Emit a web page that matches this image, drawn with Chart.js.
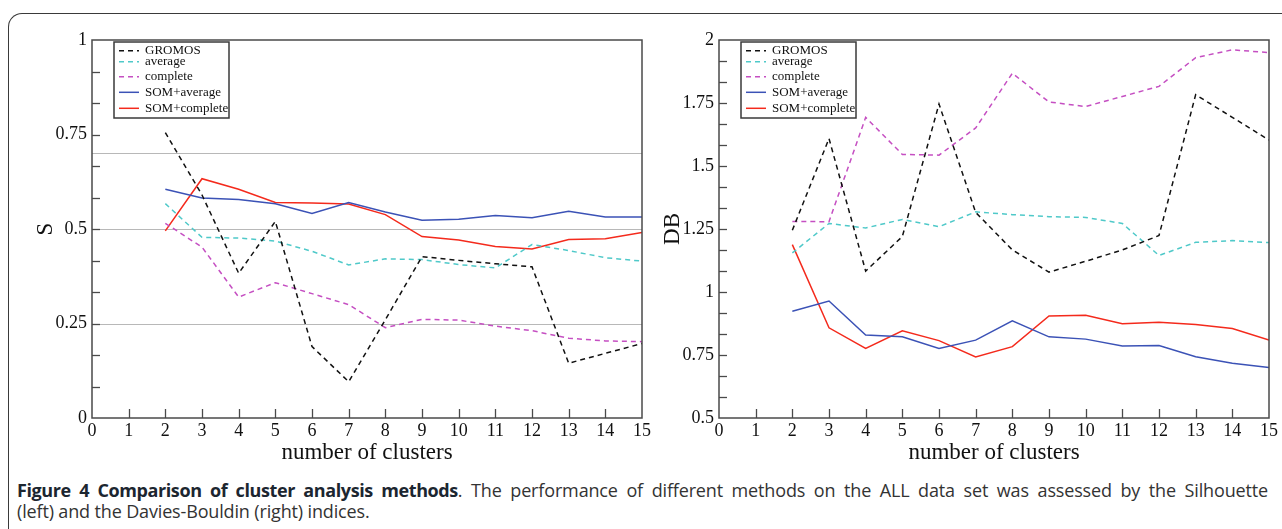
<!DOCTYPE html>
<html><head><meta charset="utf-8">
<script src="https://cdn.jsdelivr.net/npm/chart.js@4.4.1/dist/chart.umd.min.js"></script>
<style>
html,body{margin:0;padding:0;background:#fff;width:1282px;height:529px;overflow:hidden;position:relative;}
#frame{position:absolute;left:8px;top:13px;width:1400px;height:700px;border-left:1.5px solid #3a3a3a;border-top:1.5px solid #3a3a3a;border-top-left-radius:14px;box-sizing:border-box;}
#c1{position:absolute;left:13px;top:20px;}
#c2{position:absolute;left:640px;top:20px;}
.cap{position:absolute;left:17px;width:1251px;font-family:"Open Sans";font-size:18px;color:#333;line-height:21px;letter-spacing:-0.15px;}
#cap1{top:480px;text-align:justify;text-align-last:justify;}
#cap2{top:501px;}
.cap b{color:#1c2630;letter-spacing:-0.4px;}
</style></head>
<body>
<div id="frame"></div>
<canvas id="c1" width="649" height="448"></canvas>
<canvas id="c2" width="649" height="448"></canvas>
<div class="cap" id="cap1"><b>Figure 4 Comparison of cluster analysis methods</b>. The performance of different methods on the ALL data set was assessed by the Silhouette</div>
<div class="cap" id="cap2">(left) and the Davies-Bouldin (right) indices.</div>
<script>
// ---- data ----
const clusters = [2,3,4,5,6,7,8,9,10,11,12,13,14,15];
const seriesNames = ['GROMOS','average','complete','SOM+average','SOM+complete'];

const sGromos      = [0.755,0.590,0.383,0.520,0.189,0.096,0.260,0.427,0.417,0.408,0.400,0.145,0.171,0.197];
const sAverage     = [0.567,0.478,0.476,0.468,0.441,0.405,0.421,0.419,0.406,0.397,0.459,0.443,0.424,0.415];
const sComplete    = [0.515,0.452,0.320,0.358,0.329,0.300,0.239,0.261,0.259,0.243,0.231,0.211,0.204,0.202];
const sSomAverage  = [0.605,0.582,0.578,0.567,0.541,0.570,0.545,0.523,0.526,0.536,0.530,0.547,0.532,0.532];
const sSomComplete = [0.495,0.633,0.605,0.570,0.569,0.566,0.538,0.480,0.471,0.454,0.447,0.472,0.474,0.491];
const sRefLines    = [0.7, 0.5, 0.25];

const dbGromos      = [1.245,1.609,1.083,1.220,1.746,1.316,1.167,1.079,1.122,1.167,1.224,1.783,1.693,1.603];
const dbAverage     = [1.155,1.272,1.254,1.288,1.259,1.318,1.307,1.299,1.296,1.272,1.145,1.197,1.204,1.196];
const dbComplete    = [1.280,1.279,1.693,1.546,1.543,1.651,1.868,1.754,1.736,1.776,1.816,1.930,1.961,1.950];
const dbSomAverage  = [0.924,0.964,0.829,0.822,0.776,0.809,0.886,0.822,0.813,0.786,0.788,0.743,0.717,0.700];
const dbSomComplete = [1.188,0.858,0.776,0.846,0.807,0.742,0.783,0.905,0.908,0.874,0.880,0.871,0.855,0.809];

// ---- styles ----
const colors = ['#111111','#4fc9c9','#c54fc2','#3b52b6','#f42a1c'];
const dashes = [[5,4],[5,4],[5,4],[],[]];
const legendRowOffsets = [10.7, 21.7, 36.7, 52.3, 68.3];
const SERIF = '"Liberation Serif","Times New Roman",serif';

function toPts(vals){ return vals.map((v,i)=>({x:clusters[i], y:v})); }
function makeDatasets(list){
  return list.map((vals,i)=>({
    label: seriesNames[i], data: toPts(vals), borderColor: colors[i], backgroundColor: colors[i],
    borderWidth: 1.5, borderDash: dashes[i], pointRadius: 0, tension: 0, fill: false
  }));
}

const decor = {
  id: 'decor',
  beforeDatasetsDraw(chart, args, o){
    const {ctx, chartArea:a, scales:{y}} = chart;
    ctx.save();
    ctx.strokeStyle = '#b8b8b8'; ctx.lineWidth = 1;
    (o.refLines||[]).forEach(v=>{
      const py = Math.round(y.getPixelForValue(v)) + 0.5;
      ctx.beginPath(); ctx.moveTo(a.left, py); ctx.lineTo(a.right, py); ctx.stroke();
    });
    ctx.restore();
  },
  afterDraw(chart, args, o){
    const {ctx, chartArea:a, scales:{x, y}} = chart;
    ctx.save();
    ctx.strokeStyle = '#4a4a4a'; ctx.lineWidth = 1.3;
    for (let v = x.min + 1; v < x.max; v++){
      const px = Math.round(x.getPixelForValue(v)) + 0.5;
      ctx.beginPath(); ctx.moveTo(px, a.bottom); ctx.lineTo(px, a.bottom - 9); ctx.stroke();
    }
    const step = o.majorStep / 3;
    const n = Math.round((y.max - y.min) / step);
    for (let k = 1; k < n; k++){
      const py = Math.round(y.getPixelForValue(y.min + k*step)) + 0.5;
      ctx.beginPath(); ctx.moveTo(a.left, py); ctx.lineTo(a.left + 8, py); ctx.stroke();
    }
    ctx.lineWidth = 1.5; ctx.strokeStyle = '#4a4a4a';
    ctx.strokeRect(a.left, a.top, a.right - a.left, a.bottom - a.top);
    const lx = a.left + 22, ly = a.top + 2, lw = 115, lh = 76;
    ctx.fillStyle = '#fff'; ctx.fillRect(lx, ly, lw, lh);
    ctx.lineWidth = 1.5; ctx.strokeStyle = '#3a3a3a'; ctx.strokeRect(lx, ly, lw, lh);
    chart.data.datasets.forEach((ds, i)=>{
      const ry = a.top + legendRowOffsets[i];
      ctx.strokeStyle = ds.borderColor; ctx.lineWidth = 1.5; ctx.setLineDash(ds.borderDash || []);
      ctx.beginPath(); ctx.moveTo(a.left + 27, ry); ctx.lineTo(a.left + 47, ry); ctx.stroke();
      ctx.setLineDash([]);
      ctx.fillStyle = '#111'; ctx.font = '13px ' + SERIF; ctx.textBaseline = 'middle'; ctx.textAlign = 'left';
      ctx.fillText(ds.label, a.left + 53, ry);
    });
    ctx.restore();
  }
};

function makeChart(id, datasets, ymin, ymax, title, refLines){
  return new Chart(document.getElementById(id), {
    type: 'line',
    data: { datasets },
    plugins: [decor],
    options: {
      responsive: false, animation: false, devicePixelRatio: 1,
      layout: { padding: { top: 20, right: 20, left: 0, bottom: 0 } },
      plugins: { legend: { display: false }, tooltip: { enabled: false },
                 decor: { refLines: refLines, majorStep: 0.25 } },
      scales: {
        x: { type: 'linear', min: 0, max: 15,
             ticks: { stepSize: 1, autoSkip: false, padding: 2, color: '#111', font: { family: SERIF, size: 18 } },
             grid: { display: false, drawTicks: false }, border: { display: false },
             title: { display: true, text: 'number of clusters', color: '#111', font: { family: SERIF, size: 23 }, padding: { top: 0, bottom: 1 } },
             afterFit(s){ s.height = 50; } },
        y: { type: 'linear', min: ymin, max: ymax,
             ticks: { stepSize: 0.25, padding: 5, color: '#111', font: { family: SERIF, size: 18 },
                      callback: v => String(+v.toFixed(4)) },
             grid: { display: false, drawTicks: false }, border: { display: false },
             title: { display: true, text: title, color: '#111', font: { family: SERIF, size: 23 }, padding: { top: 19, bottom: 0 } },
             afterFit(s){ s.width = 79; } }
      }
    }
  });
}

makeChart('c1', makeDatasets([sGromos, sAverage, sComplete, sSomAverage, sSomComplete]), 0, 1, 'S', sRefLines);
makeChart('c2', makeDatasets([dbGromos, dbAverage, dbComplete, dbSomAverage, dbSomComplete]), 0.5, 2, 'DB', []);
</script>
</body></html>
